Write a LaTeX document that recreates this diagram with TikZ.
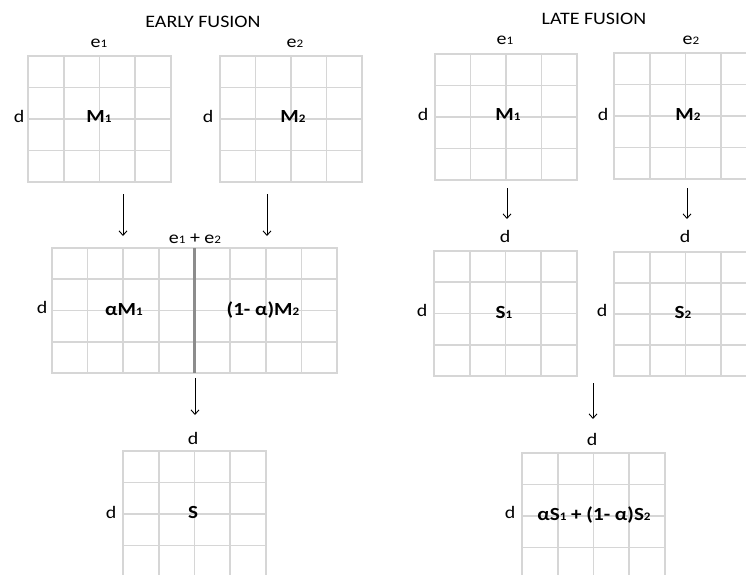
\documentclass[tikz,border=0pt]{standalone}
\usepackage{fontspec}
\setmainfont{Carlito}
\usetikzlibrary{arrows.meta,fit}
\definecolor{gridc}{RGB}{214,214,214}
\definecolor{midc}{RGB}{140,140,140}
\newcommand\lsub[1]{\raisebox{-0.8pt}{\fontsize{11.5}{12}\selectfont #1}}
\newcommand\hs[1]{\scalebox{1.14}[1]{#1}}
\tikzset{
  gridl/.style={draw=gridc, line width=1.6pt},
  lbl/.style={anchor=base, inner sep=0pt, font=\fontsize{17.5}{20}\selectfont},
  blbl/.style={lbl, font=\fontsize{18.5}{20}\selectfont\bfseries},
  arr/.style={-{Straight Barb[length=4.5pt,width=8pt]}, line width=0.9pt, black},
}
\newcommand\mgrid[6]{%
  \node[fit={(#2,#3) (#4,#5)}, inner sep=0pt] (#1) {};
  \pgfmathsetmacro\gdx{(#4-#2)/#6}
  \pgfmathsetmacro\gdy{(#5-#3)/4}
  \pgfmathtruncatemacro\gn{#6-1}
  \foreach \k in {1,...,\gn} {\draw[gridl] ({#2+\k*\gdx},#3) -- ({#2+\k*\gdx},#5);}
  \foreach \k in {1,2,3} {\draw[gridl] (#2,{#3+\k*\gdy}) -- (#4,{#3+\k*\gdy});}
  \draw[gridl] (#2,#3) rectangle (#4,#5);
}
\begin{document}
\begin{tikzpicture}[x=1pt,y=-1pt]
\useasboundingbox (0,0) rectangle (746,574);
\clip (0,0) rectangle (746,574);
% ---------- EARLY FUSION ----------
\node[lbl] (tearly) at (203,27) {\hs{EARLY FUSION}};
\mgrid{em1}{28}{56}{171}{182}{4}
\mgrid{em2}{220}{56}{362}{182}{4}
\node[lbl] (ee1) at (99,47) {\hs{e\lsub{1}}};
\node[lbl] (ee2) at (295,47) {\hs{e\lsub{2}}};
\node[lbl] (ed1) at (19,122) {\hs{d}};
\node[lbl] (ed2) at (208,122) {\hs{d}};
\node[blbl] (eM1) at (99,122) {\hs{M\lsub{1}}};
\node[blbl] (eM2) at (293,122) {\hs{M\lsub{2}}};

\coordinate (ea1s) at (123,194); \coordinate (ea1e) at (123,236);
\coordinate (ea2s) at (267,194); \coordinate (ea2e) at (267,236);
\draw[arr] (ea1s) -- (ea1e);
\draw[arr] (ea2s) -- (ea2e);

\mgrid{ew}{52}{248}{337}{373}{8}
\coordinate (ewtop) at (194.5,248); \coordinate (ewbot) at (194.5,373);
\draw[draw=midc, line width=2.2pt] (ewtop) -- (ewbot);
\node[lbl] (ee12) at (195,243) {\hs{e\lsub{1} + e\lsub{2}}};
\node[lbl] (edw) at (42,313) {\hs{d}};
\node[blbl] (eaM1) at (124,315) {\hs{αM\lsub{1}}};
\node[blbl] (eaM2) at (263,315) {\hs{(1- α)M\lsub{2}}};

\coordinate (ea3s) at (195,378); \coordinate (ea3e) at (195,415);
\draw[arr] (ea3s) -- (ea3e);

\node[lbl] (eds1) at (193,444) {\hs{d}};
\mgrid{es}{123}{451}{266}{577}{4}
\node[lbl] (eds2) at (111,518) {\hs{d}};
\node[blbl] (eS) at (193,518) {\hs{S}};

% ---------- LATE FUSION ----------
\node[lbl] (tlate) at (594,24) {\hs{LATE FUSION}};
\mgrid{lm1}{435}{54}{577}{180}{4}
\mgrid{lm2}{614}{53}{757}{179}{4}
\node[lbl] (le1) at (505,44) {\hs{e\lsub{1}}};
\node[lbl] (le2) at (691,44) {\hs{e\lsub{2}}};
\node[lbl] (ld1) at (423,120) {\hs{d}};
\node[lbl] (ld2) at (603,120) {\hs{d}};
\node[blbl] (lM1) at (508,120) {\hs{M\lsub{1}}};
\node[blbl] (lM2) at (688,120) {\hs{M\lsub{2}}};

\coordinate (la1s) at (507,188); \coordinate (la1e) at (507,219);
\coordinate (la2s) at (687,188); \coordinate (la2e) at (687,219);
\draw[arr] (la1s) -- (la1e);
\draw[arr] (la2s) -- (la2e);

\node[lbl] (lds1) at (505,242) {\hs{d}};
\node[lbl] (lds2) at (685,242) {\hs{d}};
\mgrid{ls1}{434}{251}{577}{376}{4}
\mgrid{ls2}{614}{252}{757}{376}{4}
\node[lbl] (ldr1) at (422,316) {\hs{d}};
\node[lbl] (ldr2) at (602,316) {\hs{d}};
\node[blbl] (lS1) at (504,318) {\hs{S\lsub{1}}};
\node[blbl] (lS2) at (683,318) {\hs{S\lsub{2}}};

\coordinate (la3s) at (593,383); \coordinate (la3e) at (593,419);
\draw[arr] (la3s) -- (la3e);

\node[lbl] (ldf1) at (592,445) {\hs{d}};
\mgrid{lsf}{522}{453}{665}{579}{4}
\node[lbl] (ldf2) at (510,518) {\hs{d}};
\node[blbl] (lSf) at (594,520) {\hs{αS\lsub{1} + (1- α)S\lsub{2}}};
\end{tikzpicture}
\end{document}
